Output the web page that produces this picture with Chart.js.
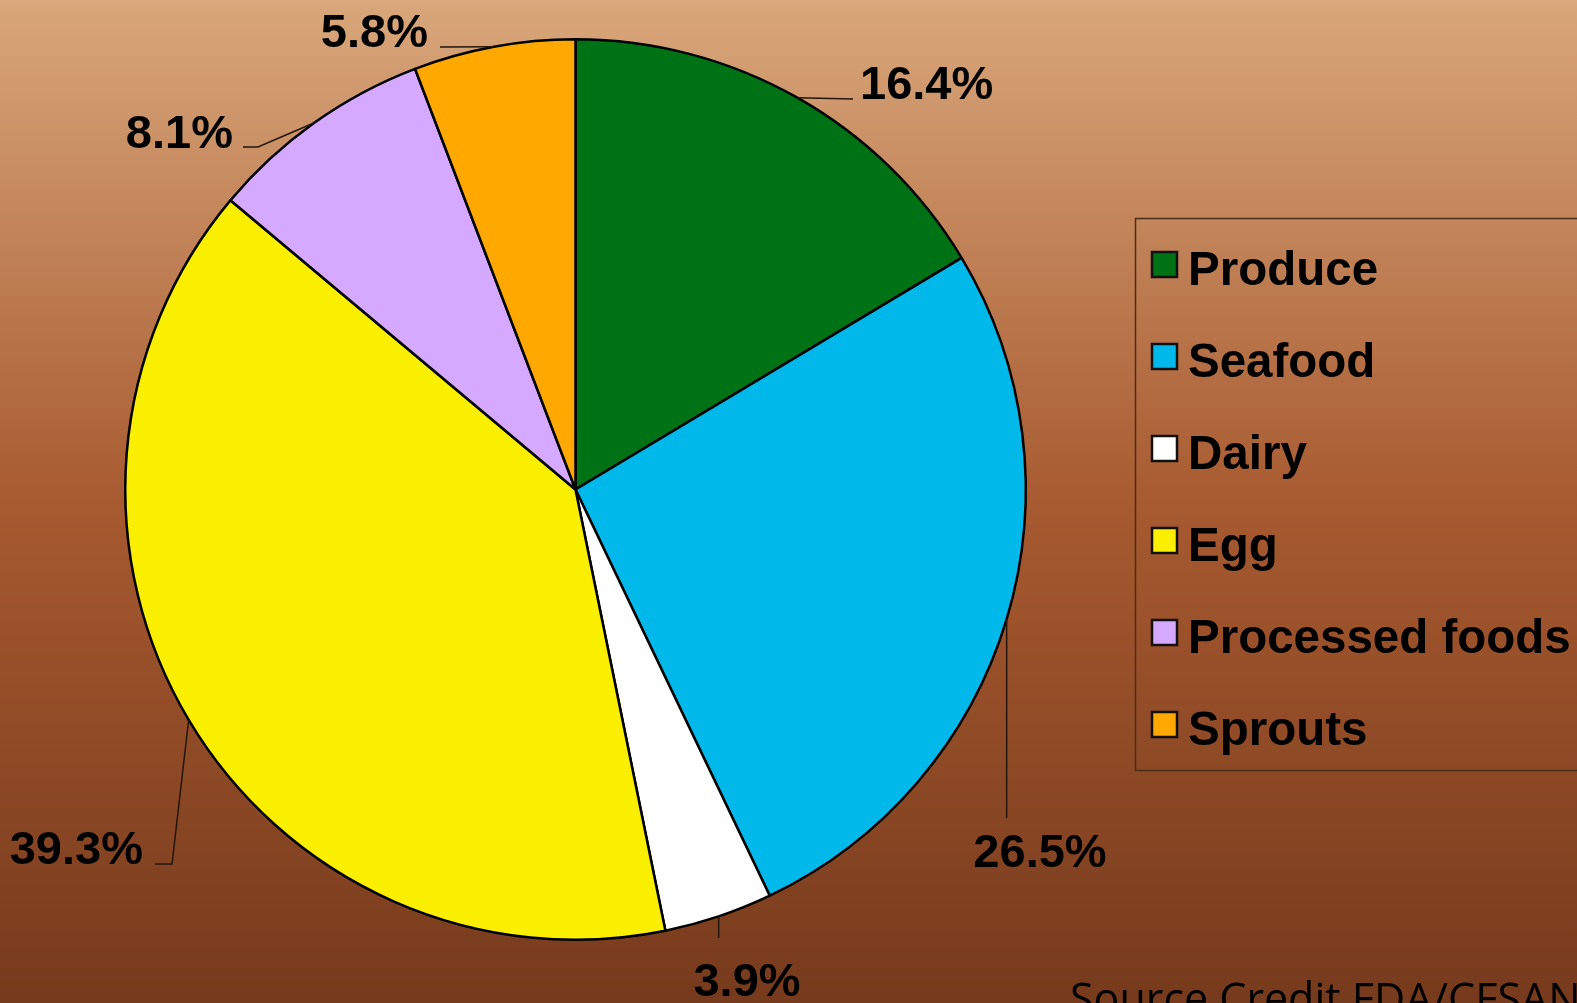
<!DOCTYPE html>
<html>
<head>
<meta charset="utf-8">
<title>Outbreaks by food category</title>
<script src="https://cdn.jsdelivr.net/npm/chart.js@4.4.1/dist/chart.umd.min.js"></script>
<style>
  html, body { margin: 0; padding: 0; background: #763a1c; overflow: hidden; }
  canvas { display: block; }
</style>
</head>
<body>
<canvas id="pieChart" width="1577" height="1003"></canvas>
<script>
// data
const categories = ["Produce", "Seafood", "Dairy", "Egg", "Processed foods", "Sprouts"];
const shares = [16.4, 26.5, 3.9, 39.3, 8.1, 5.8];
const sliceColors = ["#007216", "#00b9ea", "#ffffff", "#faef00", "#d4a9ff", "#ffa800"];
const sourceNote = "Source Credit FDA/CFSAN";

// where each percent label sits and how its leader line bends (style only)
const labelSpots = [
  { path: [[853, 99]], x: 860, y: 99, align: "left" },
  { path: [[null, 818]], x: 1040, y: 867, align: "center" },
  { path: [[null, 938]], x: 747, y: 996, align: "center" },
  { path: [[172, 864], [155, 864]], x: 143, y: 864, align: "right" },
  { path: [[258, 147], [243, 147]], x: 233, y: 148, align: "right" },
  { path: [[440, 47]], x: 428, y: 47, align: "right" }
];

const backdrop = {
  id: "backdrop",
  beforeDraw(chart) {
    const ctx = chart.ctx;
    const g = ctx.createLinearGradient(0, 0, 0, chart.height);
    g.addColorStop(0, "#d9a77b");
    g.addColorStop(0.5, "#a85a30");
    g.addColorStop(1, "#763a1c");
    ctx.save();
    ctx.fillStyle = g;
    ctx.fillRect(0, 0, chart.width, chart.height);
    ctx.restore();
  }
};

const pieLabels = {
  id: "pieLabels",
  afterDatasetsDraw(chart) {
    const ctx = chart.ctx;
    const arcs = chart.getDatasetMeta(0).data;
    ctx.save();
    ctx.strokeStyle = "#24160c";
    ctx.lineWidth = 1.5;
    arcs.forEach((arc, i) => {
      const p = arc.getProps(["x", "y", "startAngle", "endAngle", "outerRadius"], true);
      const mid = (p.startAngle + p.endAngle) / 2;
      const ax = p.x + Math.cos(mid) * p.outerRadius;
      const ay = p.y + Math.sin(mid) * p.outerRadius;
      const spot = labelSpots[i];
      ctx.beginPath();
      ctx.moveTo(ax, ay);
      spot.path.forEach(pt => ctx.lineTo(pt[0] === null ? ax : pt[0], pt[1]));
      ctx.stroke();

      ctx.fillStyle = "#000";
      ctx.font = "bold 47px 'Liberation Sans', Arial, sans-serif";
      ctx.textAlign = spot.align;
      ctx.textBaseline = "alphabetic";
      ctx.fillText(shares[i].toFixed(1) + "%", spot.x, spot.y);
    });
    ctx.restore();
  }
};

const boxLegend = {
  id: "boxLegend",
  afterDraw(chart) {
    const ctx = chart.ctx;
    ctx.save();
    ctx.strokeStyle = "#4a2e1a";
    ctx.lineWidth = 1.5;
    ctx.strokeRect(1135.5, 218.5, 520, 552);

    ctx.font = "bold 47.5px 'Liberation Sans', Arial, sans-serif";
    ctx.textAlign = "left";
    ctx.textBaseline = "alphabetic";
    categories.forEach((name, i) => {
      const base = 285 + i * 92;
      ctx.fillStyle = sliceColors[i];
      ctx.fillRect(1152, base - 33, 25, 25);
      ctx.strokeStyle = "#111";
      ctx.lineWidth = 2.5;
      ctx.strokeRect(1152, base - 33, 25, 25);
      ctx.fillStyle = "#000";
      ctx.fillText(name, 1188, base);
    });

    ctx.font = "43px 'Open Sans', sans-serif";
    ctx.fillText(sourceNote, 1070, 1014);
    ctx.restore();
  }
};

new Chart("pieChart", {
  type: "pie",
  data: {
    labels: categories,
    datasets: [{
      data: shares,
      backgroundColor: sliceColors,
      borderColor: "#000",
      borderWidth: 2.5
    }]
  },
  options: {
    responsive: false,
    animation: false,
    layout: { padding: { left: 124, top: 38, right: 550, bottom: 62 } },
    plugins: {
      legend: { display: false },
      tooltip: { enabled: false }
    }
  },
  plugins: [backdrop, pieLabels, boxLegend]
});
</script>
</body>
</html>
